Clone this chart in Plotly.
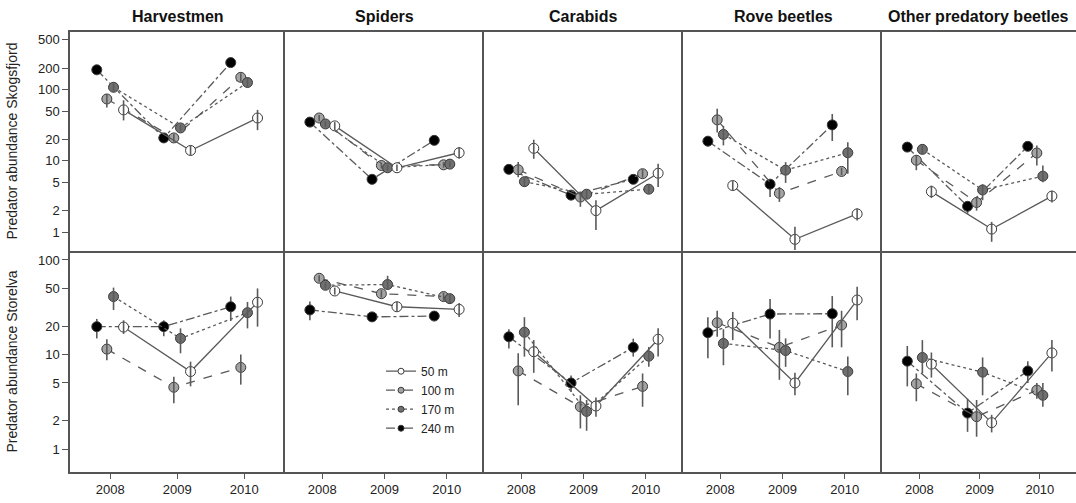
import plotly.graph_objects as go

# ---------------- data ----------------
YEARS = [2008, 2009, 2010]
TAXA = ["Harvestmen", "Spiders", "Carabids", "Rove beetles", "Other predatory beetles"]
SITES = ["Skogsfjord", "Storelva"]
DISTANCES = ["50 m", "100 m", "170 m", "240 m"]

# Skogsfjord (rows = taxa, cols = years)
SKOG_50_MEAN = [[52, 14, 40], [31, 8.0, 13], [15, 2.0, 6.7], [4.5, 0.79, 1.8], [3.7, 1.1, 3.2]]
SKOG_50_LO = [[37, 11.9, 27], [27, 7.2, 10.7], [10.7, 1.07, 4.3], [3.9, 0.56, 1.45], [3.0, 0.73, 2.6]]
SKOG_50_HI = [[71, 16.5, 52], [35, 8.9, 15.6], [19.8, 2.8, 9.1], [5.2, 1.19, 2.15], [4.5, 1.39, 3.8]]

SKOG_100_MEAN = [[74, 21, 149], [40, 8.6, 8.8], [7.5, 3.1, 6.6], [37.7, 3.5, 7.1], [10.2, 2.6, 12.9]]
SKOG_100_LO = [[56, 18.5, 130], [36, 7.8, 8.0], [5.9, 2.26, 5.8], [25, 2.65, 6.3], [7.4, 2.0, 8.6]]
SKOG_100_HI = [[87, 24, 170], [44, 9.4, 9.6], [9.6, 3.66, 7.6], [54, 4.3, 8.0], [12, 3.0, 16.5]]

SKOG_170_MEAN = [[108, 29, 126], [33, 8.0, 9.0], [5.1, 3.4, 4.0], [23.5, 7.4, 13], [14.5, 3.9, 6.1]]
SKOG_170_LO = [[95, 26, 106], [30, 7.3, 8.2], [4.4, 3.0, 3.5], [16.5, 4.9, 6.6], [12.5, 2.8, 5.0]]
SKOG_170_HI = [[122, 32, 150], [36, 8.8, 9.9], [5.9, 3.9, 4.6], [31, 9.6, 18.3], [16.5, 4.7, 8.6]]

SKOG_240_MEAN = [[190, 21, 240], [35, 5.5, 19.4], [7.6, 3.3, 5.5], [18.9, 4.7, 32], [15.6, 2.3, 16]]
SKOG_240_LO = [[172, 19, 218], [32, 5.0, 17.6], [6.9, 3.0, 5.0], [16, 3.1, 19], [14, 1.8, 14.5]]
SKOG_240_HI = [[210, 23, 265], [38, 6.0, 21.4], [8.4, 3.6, 6.0], [22, 5.5, 45.6], [17.4, 2.7, 17.6]]

# Storelva
STOR_50_MEAN = [[19.5, 6.6, 35.7], [47, 32, 30], [10.7, 2.85, 14.5], [21.4, 5.0, 37.7], [7.9, 1.9, 10.4]]
STOR_50_LO = [[16.5, 4.6, 19.7], [43, 28.5, 25], [6.4, 2.2, 9.5], [14.2, 3.7, 23], [5.7, 1.5, 6.6]]
STOR_50_HI = [[23, 8.4, 50], [51, 36, 35], [14.2, 3.5, 19], [28.2, 6.4, 52], [10.5, 2.3, 14.2]]

STOR_100_MEAN = [[11.4, 4.5, 7.3], [64, 44, 41], [6.7, 2.8, 4.6], [21.7, 11.9, 20.5], [4.9, 2.2, 4.2]]
STOR_100_LO = [[8.7, 3.05, 4.8], [59, 40, 37], [2.9, 1.65, 2.8], [15.4, 5.4, 11.9], [3.2, 1.35, 3.4]]
STOR_100_HI = [[14.5, 5.8, 10], [69, 48, 45], [10.3, 3.7, 6.3], [29, 18.2, 29], [6.3, 3.3, 5.0]]

STOR_170_MEAN = [[41, 14.8, 27.7], [54, 55, 39], [17.2, 2.5, 9.6], [13.1, 11, 6.6], [9.3, 6.5, 3.7]]
STOR_170_LO = [[29.6, 10.3, 18.9], [50, 48, 35], [9.5, 1.56, 7.4], [7.7, 7.4, 3.7], [6.3, 3.7, 2.8]]
STOR_170_HI = [[51, 18.9, 36], [58, 68, 43], [24.8, 3.3, 12], [18.5, 14.8, 9.5], [14.2, 9.3, 5.0]]

STOR_240_MEAN = [[19.7, 19.7, 32], [29.6, 25, 25.5], [15.4, 5.0, 11.9], [17, 26.8, 27], [8.5, 2.4, 6.7]]
STOR_240_LO = [[14.8, 15.6, 22.6], [23, 23.5, 24], [11.6, 4.0, 9.5], [9.1, 14.8, 11.9], [4.6, 1.52, 5.0]]
STOR_240_HI = [[23.8, 23, 41], [36.4, 26.5, 27], [18.5, 6.0, 14.7], [24.8, 38.6, 41.5], [12.3, 3.4, 8.5]]

TOP_TICKS = [1, 2, 5, 10, 20, 50, 100, 200, 500]
BOTTOM_TICKS = [1, 2, 5, 10, 20, 50, 100]

# ---------------- styling ----------------
DATA = {
    ("Skogsfjord", "50 m"): (SKOG_50_MEAN, SKOG_50_LO, SKOG_50_HI),
    ("Skogsfjord", "100 m"): (SKOG_100_MEAN, SKOG_100_LO, SKOG_100_HI),
    ("Skogsfjord", "170 m"): (SKOG_170_MEAN, SKOG_170_LO, SKOG_170_HI),
    ("Skogsfjord", "240 m"): (SKOG_240_MEAN, SKOG_240_LO, SKOG_240_HI),
    ("Storelva", "50 m"): (STOR_50_MEAN, STOR_50_LO, STOR_50_HI),
    ("Storelva", "100 m"): (STOR_100_MEAN, STOR_100_LO, STOR_100_HI),
    ("Storelva", "170 m"): (STOR_170_MEAN, STOR_170_LO, STOR_170_HI),
    ("Storelva", "240 m"): (STOR_240_MEAN, STOR_240_LO, STOR_240_HI),
}
OFFSET = {"50 m": 0.2, "100 m": -0.05, "170 m": 0.05, "240 m": -0.2}
FILL = {"50 m": "#ffffff", "100 m": "#a4a4a4", "170 m": "#707070", "240 m": "#000000"}
DASH = {"50 m": "solid", "100 m": "dash", "170 m": "dot", "240 m": "dashdot"}
DRAW_ORDER = ["240 m", "100 m", "170 m", "50 m"]

FONT = "Liberation Sans, Arial, sans-serif"
LINE_COL = "#5a5a5a"
AX_COL = "#555555"

W, H = 1076, 503
ML, MR, MT, MB = 70, 0, 32, 31
PW = W - ML - MR
col_px = [(0, 215), (215, 414), (414, 613), (613, 812), (812, 1006)]
x_ranges = [[2007.4, 2010.61], [2007.4, 2010.6], [2007.4, 2010.6], [2007.4, 2010.6], [2007.38, 2010.6]]
row_dom = [[0.5023, 1.0], [0.0, 0.5023]]
y_ranges = [[-0.266, 2.81], [-0.243, 2.095]]

fig = go.Figure()

for r, site in enumerate(SITES):
    for c, taxon in enumerate(TAXA):
        idx = r * 5 + c + 1
        xa = "x" if idx == 1 else f"x{idx}"
        ya = "y" if idx == 1 else f"y{idx}"
        for dist in DRAW_ORDER:
            mean, lo, hi = DATA[(site, dist)]
            m = mean[c]
            l = lo[c]
            h = hi[c]
            xs = [yr + OFFSET[dist] for yr in YEARS]
            pts = go.Scatter(
                x=xs, y=m, xaxis=xa, yaxis=ya, mode="lines+markers",
                line=dict(color=LINE_COL, width=1.3, dash=DASH[dist]),
                marker=dict(size=10, color=FILL[dist], line=dict(color="#3a3a3a", width=1)),
                showlegend=False, hoverinfo="skip")
            err = go.Scatter(
                x=xs, y=m, xaxis=xa, yaxis=ya, mode="markers",
                marker=dict(size=1, color="rgba(0,0,0,0)"),
                error_y=dict(type="data", symmetric=False,
                             array=[hv - mv for hv, mv in zip(h, m)],
                             arrayminus=[mv - lv for mv, lv in zip(m, l)],
                             color="#5a5a5a", thickness=1.6, width=0),
                showlegend=False, hoverinfo="skip")
            if dist == "240 m":
                fig.add_trace(err)
                fig.add_trace(pts)
            else:
                fig.add_trace(pts)
                fig.add_trace(err)
        fig.layout[f"xaxis{'' if idx == 1 else idx}"] = dict(
            domain=[col_px[c][0] / PW, col_px[c][1] / PW], range=x_ranges[c],
            anchor=ya, showline=True, mirror=(r == 0), linecolor=AX_COL, linewidth=1.5,
            showgrid=False, zeroline=False, tickvals=YEARS,
            ticks="outside" if r == 1 else "", ticklen=5, tickcolor=AX_COL,
            showticklabels=(r == 1), tickfont=dict(size=13, color="#222"))
        fig.layout[f"yaxis{'' if idx == 1 else idx}"] = dict(
            type="log", domain=row_dom[r], range=y_ranges[r], anchor=xa,
            showline=True, mirror=False, linecolor=AX_COL, linewidth=1.5,
            showgrid=False, zeroline=False,
            tickvals=TOP_TICKS if r == 0 else BOTTOM_TICKS,
            ticktext=[str(t) for t in (TOP_TICKS if r == 0 else BOTTOM_TICKS)],
            ticks="outside" if c == 0 else "", ticklen=6, tickcolor=AX_COL,
            showticklabels=(c == 0), tickfont=dict(size=13, color="#222"))

# legend entries (drawn in the Spiders / Storelva panel)
for dist in DISTANCES:
    fig.add_trace(go.Scatter(
        x=[None], y=[None], xaxis="x7", yaxis="y7", mode="lines+markers", name=dist,
        line=dict(color=LINE_COL, width=1.3, dash=DASH[dist]),
        marker=dict(size=6, color=FILL[dist], line=dict(color="#3a3a3a", width=1)),
        showlegend=True))

# panel titles
title_px = [177.5, 384.5, 583.5, 783, 978]
for c, taxon in enumerate(TAXA):
    fig.add_annotation(text=f"<b>{taxon}</b>", x=(title_px[c] - ML) / PW, y=1.0,
                       xref="paper", yref="paper", xanchor="center", yanchor="bottom",
                       yshift=5, showarrow=False, font=dict(size=16, color="#111", family=FONT))

# row titles
for r, site in enumerate(SITES):
    yc = (row_dom[r][0] + row_dom[r][1]) / 2
    fig.add_annotation(text=f"Predator abundance {site}", x=(12 - ML) / PW, y=yc,
                       xref="paper", yref="paper", xanchor="center", yanchor="middle",
                       textangle=-90, showarrow=False, font=dict(size=14, color="#222", family=FONT))

fig.update_layout(
    width=W, height=H,
    margin=dict(l=ML, r=MR, t=MT, b=MB),
    plot_bgcolor="white", paper_bgcolor="white",
    font=dict(family=FONT, color="#222"),
    legend=dict(x=(381 - ML) / PW, y=0.262, xanchor="left", yanchor="top",
                bgcolor="rgba(0,0,0,0)", font=dict(size=12, family=FONT),
                itemwidth=30, tracegroupgap=0),
)

fig.write_html("out.html", config={"displayModeBar": False},
               post_script="document.body.style.margin='0';document.body.style.overflow='hidden';")
